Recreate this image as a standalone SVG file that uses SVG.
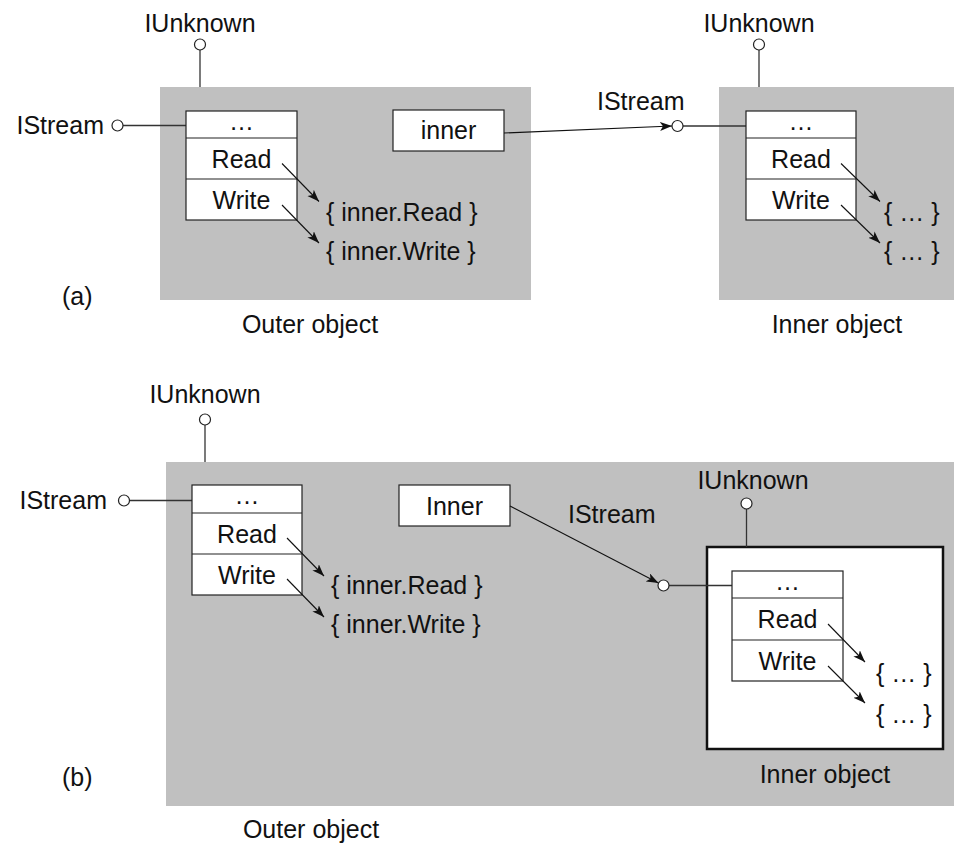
<svg xmlns="http://www.w3.org/2000/svg" width="954" height="845" viewBox="0 0 954 845">
  <style>
    text { font-family: "Liberation Sans", Arial, Helvetica, sans-serif; font-size: 25px; fill: #111; }
    .mid { text-anchor: middle; }
    .end { text-anchor: end; }
    .obj { fill: #c0c0c0; stroke: none; }
    .cell { fill: #fff; stroke: #222; stroke-width: 1.2; }
    .sep { stroke: #222; stroke-width: 1.2; }
    .wire { stroke: #333; stroke-width: 1.3; fill: none; }
    .link { stroke: #111; stroke-width: 1.1; fill: none; marker-end: url(#head); }
    .port { fill: #fff; stroke: #222; stroke-width: 1.2; }
    .frame { fill: #fff; stroke: #111; stroke-width: 2.5; }
  </style>
  <defs>
    <marker id="head" markerUnits="userSpaceOnUse" markerWidth="14" markerHeight="10" refX="12" refY="4.5" orient="auto">
      <path d="M0,0 L12,4.5 L0,9 L3,4.5 z" fill="#111"/>
    </marker>
  </defs>

  <rect width="954" height="845" fill="#fff"/>

  <!-- (a) separate objects -->
  <g id="a-outer">
    <rect class="obj" x="160" y="87" width="371" height="213"/>
    <text class="mid" x="310" y="333">Outer object</text>
  </g>
  <g id="a-outer-iunknown">
    <text class="mid" x="200" y="32">IUnknown</text>
    <line class="wire" x1="200" y1="50" x2="200" y2="87"/>
    <circle class="port" cx="200" cy="44.5" r="5.5"/>
  </g>
  <g id="a-outer-istream">
    <text class="end" x="104" y="134">IStream</text>
    <line class="wire" x1="123" y1="125.5" x2="186" y2="125.5"/>
    <circle class="port" cx="117.5" cy="125.5" r="5.5"/>
  </g>
  <g id="a-outer-vtable">
    <rect class="cell" x="186" y="111" width="111" height="109"/>
    <line class="sep" x1="186" y1="138" x2="297" y2="138"/>
    <line class="sep" x1="186" y1="179" x2="297" y2="179"/>
    <text class="mid" x="241.5" y="130">…</text>
    <text class="mid" x="241.5" y="168">Read</text>
    <text class="mid" x="241.5" y="208.5">Write</text>
  </g>
  <g id="a-outer-impl">
    <text x="326" y="221">{ inner.Read }</text>
    <text x="326" y="260">{ inner.Write }</text>
  </g>
  <g id="a-inner-ref">
    <rect class="cell" x="393" y="110" width="111" height="41"/>
    <text class="mid" x="448.5" y="139">inner</text>
  </g>

  <g id="a-inner">
    <rect class="obj" x="719" y="87" width="235" height="213"/>
    <text class="mid" x="837" y="333">Inner object</text>
  </g>
  <g id="a-inner-iunknown">
    <text class="mid" x="759" y="32">IUnknown</text>
    <line class="wire" x1="759" y1="50" x2="759" y2="87"/>
    <circle class="port" cx="759" cy="44.5" r="5.5"/>
  </g>
  <g id="a-inner-istream">
    <text x="597" y="110">IStream</text>
    <line class="wire" x1="683" y1="126" x2="746" y2="126"/>
    <circle class="port" cx="677.5" cy="126" r="5.5"/>
  </g>
  <g id="a-inner-vtable">
    <rect class="cell" x="746" y="111" width="110" height="109"/>
    <line class="sep" x1="746" y1="138" x2="856" y2="138"/>
    <line class="sep" x1="746" y1="179" x2="856" y2="179"/>
    <text class="mid" x="801" y="130">…</text>
    <text class="mid" x="801" y="168">Read</text>
    <text class="mid" x="801" y="208.5">Write</text>
  </g>
  <g id="a-inner-impl">
    <text x="884" y="221">{ … }</text>
    <text x="884" y="260">{ … }</text>
  </g>
  <text id="label-a" x="62" y="305">(a)</text>

  <!-- (b) aggregated objects -->
  <g id="b-outer">
    <rect class="obj" x="166" y="462" width="788" height="344"/>
    <text class="mid" x="311" y="838">Outer object</text>
  </g>
  <g id="b-outer-iunknown">
    <text class="mid" x="205" y="403">IUnknown</text>
    <line class="wire" x1="205" y1="425" x2="205" y2="462"/>
    <circle class="port" cx="205" cy="419.5" r="5.5"/>
  </g>
  <g id="b-outer-istream">
    <text class="end" x="107" y="509">IStream</text>
    <line class="wire" x1="129.5" y1="500.5" x2="192" y2="500.5"/>
    <circle class="port" cx="124" cy="500.5" r="5.5"/>
  </g>
  <g id="b-outer-vtable">
    <rect class="cell" x="192" y="485" width="110" height="110"/>
    <line class="sep" x1="192" y1="513" x2="302" y2="513"/>
    <line class="sep" x1="192" y1="554" x2="302" y2="554"/>
    <text class="mid" x="247" y="504">…</text>
    <text class="mid" x="247" y="543">Read</text>
    <text class="mid" x="247" y="583.5">Write</text>
  </g>
  <g id="b-outer-impl">
    <text x="331" y="594">{ inner.Read }</text>
    <text x="331" y="633">{ inner.Write }</text>
  </g>
  <g id="b-inner-ref">
    <rect class="cell" x="399" y="485" width="111" height="41"/>
    <text class="mid" x="454.5" y="515">Inner</text>
  </g>
  <text id="b-istream-label" x="568" y="523">IStream</text>

  <g id="b-inner">
    <rect class="frame" x="707" y="547" width="236" height="202"/>
    <text class="mid" x="825" y="783">Inner object</text>
  </g>
  <g id="b-inner-iunknown">
    <text class="mid" x="753" y="489">IUnknown</text>
    <line class="wire" x1="746.5" y1="509" x2="746.5" y2="547"/>
    <circle class="port" cx="746.5" cy="503.5" r="5.5"/>
  </g>
  <g id="b-inner-istream">
    <line class="wire" x1="669" y1="585.5" x2="732" y2="585.5"/>
    <circle class="port" cx="663.5" cy="585.5" r="5.5"/>
  </g>
  <g id="b-inner-vtable">
    <rect class="cell" x="732" y="571" width="111" height="110"/>
    <line class="sep" x1="732" y1="598" x2="843" y2="598"/>
    <line class="sep" x1="732" y1="640" x2="843" y2="640"/>
    <text class="mid" x="787.5" y="590">…</text>
    <text class="mid" x="787.5" y="628">Read</text>
    <text class="mid" x="787.5" y="669.5">Write</text>
  </g>
  <g id="b-inner-impl">
    <text x="876" y="682">{ … }</text>
    <text x="876" y="723">{ … }</text>
  </g>
  <text id="label-b" x="62" y="786">(b)</text>

  <!-- connectors -->
  <g id="connectors">
    <line class="link" x1="504" y1="133" x2="672" y2="126"/>
    <line class="link" x1="282" y1="163.5" x2="319" y2="201.5"/>
    <line class="link" x1="282" y1="205" x2="319" y2="243"/>
    <line class="link" x1="841" y1="163.5" x2="880" y2="201.5"/>
    <line class="link" x1="841" y1="205" x2="880" y2="243"/>
    <line class="link" x1="510" y1="506" x2="658.5" y2="583"/>
    <line class="link" x1="287" y1="538" x2="324" y2="576"/>
    <line class="link" x1="287" y1="579" x2="324" y2="617"/>
    <line class="link" x1="828" y1="624" x2="865" y2="662"/>
    <line class="link" x1="828" y1="666" x2="865" y2="703"/>
  </g>
</svg>
